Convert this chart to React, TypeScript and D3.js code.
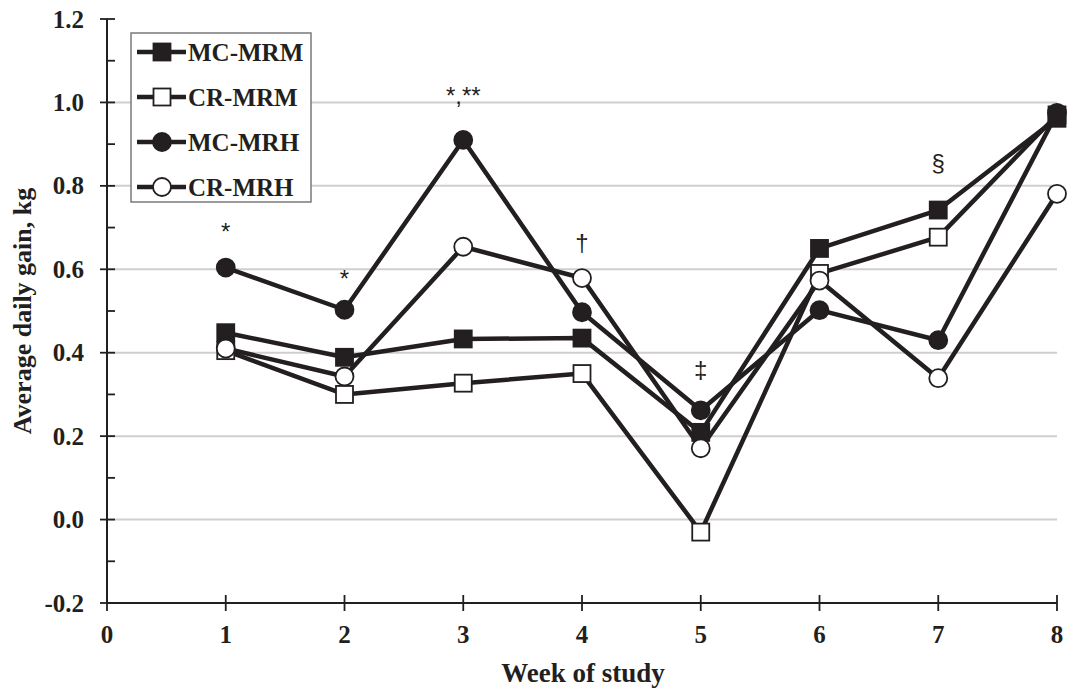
import * as d3 from 'd3';

const weeks = [1, 2, 3, 4, 5, 6, 7, 8];
const mcMrm = [0.448, 0.389, 0.433, 0.435, 0.209, 0.65, 0.742, 0.962];
const crMrm = [0.405, 0.3, 0.327, 0.35, -0.03, 0.59, 0.677, 0.97];
const mcMrh = [0.604, 0.503, 0.91, 0.497, 0.262, 0.502, 0.43, 0.975];
const crMrh = [0.41, 0.343, 0.654, 0.579, 0.171, 0.573, 0.339, 0.781];

const xTicks = [0, 1, 2, 3, 4, 5, 6, 7, 8];
const yMajor = [-0.2, 0, 0.2, 0.4, 0.6, 0.8, 1.0, 1.2];
const yMinor = [-0.1, 0.1, 0.3, 0.5, 0.7, 0.9, 1.1];
const gridValues = [0, 0.2, 0.4, 0.6, 0.8, 1.0];

// significance marks: week, y position (data units), text
const marks = [
  { week: 1, value: 0.685, text: '*' },
  { week: 2, value: 0.573, text: '*' },
  { week: 3, value: 1.012, text: '*,**' },
  { week: 4, value: 0.66, text: '†' },
  { week: 5, value: 0.355, text: '‡' },
  { week: 7, value: 0.85, text: '§' },
];

type Series = { name: string; values: number[]; shape: 'square' | 'circle'; filled: boolean };

const series: Series[] = [
  { name: 'CR-MRM', values: crMrm, shape: 'square', filled: false },
  { name: 'MC-MRM', values: mcMrm, shape: 'square', filled: true },
  { name: 'MC-MRH', values: mcMrh, shape: 'circle', filled: true },
  { name: 'CR-MRH', values: crMrh, shape: 'circle', filled: false },
];
const legendOrder = ['MC-MRM', 'CR-MRM', 'MC-MRH', 'CR-MRH'];

const ink = '#231f20';
const serif = '"Liberation Serif", "Times New Roman", serif';
const sans = '"Liberation Sans", Arial, sans-serif';

function Marker({ s, cx, cy }: { s: Series; cx: number; cy: number }) {
  const fill = s.filled ? ink : '#fff';
  if (s.shape === 'square') {
    return <rect x={cx - 8.5} y={cy - 8.5} width={17} height={17} fill={fill} stroke={ink} strokeWidth={1.8} />;
  }
  return <circle cx={cx} cy={cy} r={9} fill={fill} stroke={ink} strokeWidth={1.8} />;
}

export default function App() {
  const width = 1067;
  const height = 688;
  const x = d3.scaleLinear().domain([0, 8]).range([107, 1057]);
  const y = d3.scaleLinear().domain([-0.2, 1.2]).range([603, 19]);
  const line = d3
    .line<number>()
    .x((_, i) => x(weeks[i]))
    .y((v) => y(v));

  return (
    <svg width={width} height={height} style={{ position: 'absolute', left: 0, top: 0, background: '#fff' }}>
      <rect width={width} height={height} fill="#fff" />
      {gridValues.map((g) => (
        <line key={g} x1={x(0)} x2={x(8)} y1={y(g)} y2={y(g)} stroke="#cfcfcf" strokeWidth={2} />
      ))}

      {/* axes */}
      <line x1={x(0)} x2={x(0)} y1={y(1.2)} y2={y(-0.2)} stroke={ink} strokeWidth={2} />
      <line x1={x(0)} x2={x(8)} y1={y(-0.2)} y2={y(-0.2)} stroke={ink} strokeWidth={2} />
      {yMajor.map((t) => (
        <g key={t}>
          <line x1={x(0) - 7} x2={x(0) + 8} y1={y(t)} y2={y(t)} stroke={ink} strokeWidth={1.8} />
          <text x={84} y={y(t) + 8.5} textAnchor="end" fontFamily={serif} fontWeight="bold" fontSize={25} fill={ink}>
            {t.toFixed(1)}
          </text>
        </g>
      ))}
      {yMinor.map((t) => (
        <line key={t} x1={x(0)} x2={x(0) + 8} y1={y(t)} y2={y(t)} stroke={ink} strokeWidth={1.8} />
      ))}
      {xTicks.map((t) => (
        <g key={t}>
          <line x1={x(t)} x2={x(t)} y1={y(-0.2) - 8} y2={y(-0.2) + 8} stroke={ink} strokeWidth={1.8} />
          <text x={x(t)} y={643} textAnchor="middle" fontFamily={serif} fontWeight="bold" fontSize={25} fill={ink}>
            {t}
          </text>
        </g>
      ))}
      <text x={583} y={682} textAnchor="middle" fontFamily={serif} fontWeight="bold" fontSize={27} fill={ink}>
        Week of study
      </text>
      <text
        transform={`translate(31,${y(0.5)}) rotate(-90)`}
        textAnchor="middle"
        fontFamily={serif}
        fontWeight="bold"
        fontSize={26}
        fill={ink}
      >
        Average daily gain, kg
      </text>

      {/* series */}
      {series.map((s) => (
        <g key={s.name}>
          <path d={line(s.values) ?? ''} fill="none" stroke={ink} strokeWidth={4.5} strokeLinejoin="round" />
        </g>
      ))}
      {series.map((s) => (
        <g key={s.name + '-m'}>
          {s.values.map((v, i) => (
            <Marker key={i} s={s} cx={x(weeks[i])} cy={y(v)} />
          ))}
        </g>
      ))}

      {marks.map((m) => (
        <text
          key={m.week}
          x={x(m.week)}
          y={y(m.value)}
          textAnchor="middle"
          dominantBaseline="middle"
          fontFamily={sans}
          fontSize={24}
          fill={ink}
        >
          {m.text}
        </text>
      ))}

      {/* legend */}
      <rect x={131} y={33} width={180} height={169} fill="#fff" stroke="#7a7a7a" strokeWidth={1.5} />
      {legendOrder.map((name, i) => {
        const s = series.find((d) => d.name === name)!;
        const cy = 52 + i * 45;
        return (
          <g key={name}>
            <line x1={137} x2={186} y1={cy} y2={cy} stroke={ink} strokeWidth={4.5} />
            <Marker s={s} cx={162} cy={cy} />
            <text x={188} y={cy + 8.5} fontFamily={serif} fontWeight="bold" fontSize={25} fill={ink}>
              {name}
            </text>
          </g>
        );
      })}
    </svg>
  );
}
